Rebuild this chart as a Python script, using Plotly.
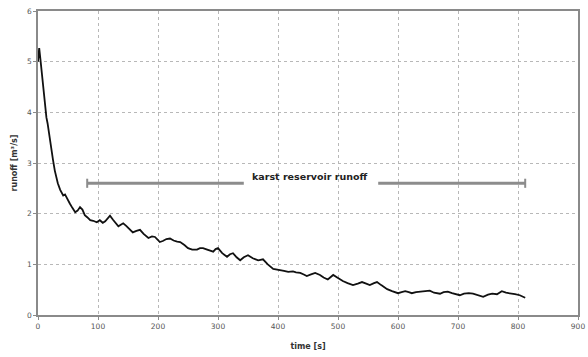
import plotly.graph_objects as go

time_s = [0, 2, 4, 6, 8, 10, 12, 14, 16, 18, 20, 23, 25, 28, 30, 33, 37, 40, 42, 45, 48, 50, 53, 57,
          62, 66, 70, 74, 78, 82, 87, 92, 98, 103, 108, 112, 116, 120, 125, 131, 134, 138, 142, 147,
          152, 158, 164, 170, 176, 184, 190, 195, 200, 203, 208, 214, 220, 226, 232, 237, 244, 250,
          257, 265, 270, 275, 282, 287, 292, 296, 300, 307, 315, 320, 325, 331, 337, 343, 350, 358,
          367, 375, 383, 392, 398, 403, 410, 417, 425, 430, 437, 443, 448, 455, 462, 470, 476, 483,
          488, 492, 500, 508, 516, 525, 533, 540, 547, 553, 560, 565, 572, 582, 590, 600, 606, 612,
          618, 623, 630, 638, 645, 653, 660, 670, 676, 683, 690, 697, 703, 710, 718, 725, 733, 742,
          750, 757, 765, 770, 773, 780, 787, 795, 803, 808, 812]
runoff = [5.0, 5.27, 5.05, 4.8, 4.68, 4.35, 4.05, 3.9, 3.78, 3.6, 3.45, 3.22, 3.06, 2.85, 2.73, 2.6,
          2.47, 2.4, 2.36, 2.38, 2.3, 2.27, 2.2, 2.12, 2.03, 2.06, 2.13, 2.08, 1.97, 1.93, 1.87, 1.86,
          1.83, 1.87, 1.82, 1.85, 1.9, 1.96, 1.88, 1.8, 1.75, 1.78, 1.81, 1.76, 1.7, 1.63, 1.66, 1.68,
          1.6, 1.52, 1.55, 1.54, 1.48, 1.44, 1.46, 1.5, 1.51, 1.47, 1.45, 1.44, 1.38, 1.32, 1.29, 1.29,
          1.32, 1.32, 1.29, 1.27, 1.25, 1.3, 1.32, 1.22, 1.15, 1.2, 1.22, 1.14, 1.08, 1.14, 1.18, 1.12,
          1.08, 1.1, 1.0, 0.91, 0.9, 0.89, 0.87, 0.85, 0.86, 0.84, 0.83, 0.8, 0.77, 0.8, 0.83, 0.79,
          0.74, 0.7, 0.76, 0.79, 0.73, 0.67, 0.63, 0.59, 0.62, 0.65, 0.62, 0.59, 0.63, 0.65, 0.59,
          0.51, 0.47, 0.43, 0.45, 0.47, 0.45, 0.43, 0.45, 0.46, 0.47, 0.48, 0.44, 0.42, 0.45, 0.46,
          0.43, 0.41, 0.39, 0.42, 0.43, 0.42, 0.39, 0.36, 0.4, 0.42, 0.41, 0.45, 0.47, 0.44, 0.42,
          0.41, 0.39, 0.36, 0.34]

x_ticks = [0, 100, 200, 300, 400, 500, 600, 700, 800, 900]
y_ticks = [0, 1, 2, 3, 4, 5, 6]

span_label = "karst reservoir runoff"
span_start, span_end, span_level = 82, 812, 2.6
gap_start, gap_end = 343, 567
label_x, label_y = 453, 2.74

FONT = "DejaVu Sans, Liberation Sans, Arial"

fig = go.Figure()
fig.add_trace(go.Scatter(x=time_s, y=runoff, mode="lines",
                         line=dict(color="#111111", width=1.8), showlegend=False))

bar_color = "#8c8c8c"
for x0, x1 in [(span_start, gap_start), (gap_end, span_end)]:
    fig.add_shape(type="line", x0=x0, x1=x1, y0=span_level, y1=span_level,
                  xref="x", yref="y", line=dict(color=bar_color, width=3))
for xc in [span_start, span_end]:
    fig.add_shape(type="line", x0=xc, x1=xc, y0=span_level - 0.09, y1=span_level + 0.09,
                  xref="x", yref="y", line=dict(color=bar_color, width=2))

fig.add_annotation(x=label_x, y=label_y, text="<b>" + span_label + "</b>", showarrow=False,
                   font=dict(family=FONT, size=9.5, color="#222222"),
                   xref="x", yref="y")

axis_common = dict(showline=True, linecolor="#8a8a8a", linewidth=1.5, mirror=True,
                   showgrid=True, gridcolor="#b8b8b8", griddash="3px,3px", gridwidth=1,
                   ticks="outside", ticklen=3, tickcolor="#8a8a8a", zeroline=False,
                   automargin=False,
                   tickfont=dict(family=FONT, size=7.5, color="#555555"))

fig.update_xaxes(range=[0, 900], tickvals=x_ticks, ticktext=[str(v) for v in x_ticks],
                 title=dict(text="<b>time [s]</b>", standoff=14,
                            font=dict(family=FONT, size=8, color="#333333")),
                 **axis_common)
fig.update_yaxes(range=[0, 6], tickvals=y_ticks, ticktext=[str(v) for v in y_ticks],
                 title=dict(text="<b>runoff [m³/s]</b>", standoff=8,
                            font=dict(family=FONT, size=8, color="#333333")),
                 **axis_common)

fig.update_layout(width=588, height=357, margin=dict(l=38, r=10, t=11, b=42),
                  plot_bgcolor="white", paper_bgcolor="white")

fig.write_html("out.html", config={"displayModeBar": False},
               post_script="document.body.style.margin='0px';")
